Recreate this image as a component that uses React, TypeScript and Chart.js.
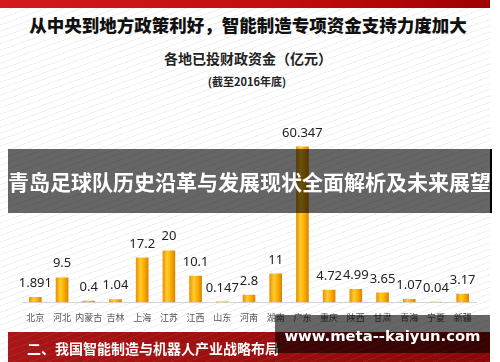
import React, { useEffect, useRef } from "react";
import { Chart, registerables } from "chart.js";

Chart.register(...registerables);

const categories = ["北京", "河北", "内蒙古", "吉林", "上海", "江苏", "江西", "山东", "河南", "湖南", "广东", "重庆", "陕西", "甘肃", "青海", "宁夏", "新疆"];
const values = [1.891, 9.5, 0.4, 1.04, 17.2, 20, 10.1, 0.147, 2.8, 11, 60.347, 4.72, 4.99, 3.65, 1.07, 0.04, 3.17];

const mainTitle = "从中央到地方政策利好，智能制造专项资金支持力度加大";
const subTitle = "各地已投财政资金（亿元）";
const subNote = "(截至2016年底)";
const overlayTitle = "青岛足球队历史沿革与发展现状全面解析及未来展望";
const sectionTitle = "二、我国智能制造与机器人产业战略布局";
const watermark = "www.meta--kaiyun.com";

const CJK = '"Noto Sans CJK SC", "Noto Sans", sans-serif';

const valueLabels = {
  id: "valueLabels",
  afterDatasetsDraw(chart: any) {
    const ctx = chart.ctx;
    const meta = chart.getDatasetMeta(0);
    ctx.save();
    ctx.font = '13px "Noto Sans", sans-serif';
    ctx.fillStyle = "#222";
    ctx.textAlign = "center";
    ctx.textBaseline = "middle";
    meta.data.forEach((el: any, i: number) => {
      ctx.fillText(String(values[i]), el.x, el.y - 14);
    });
    ctx.restore();
  },
};

export default function App() {
  const ref = useRef<HTMLCanvasElement | null>(null);

  useEffect(() => {
    if (!ref.current) return;
    const chart = new Chart(ref.current, {
      type: "bar",
      data: {
        labels: categories,
        datasets: [
          {
            data: values,
            barThickness: 12,
            backgroundColor: (c: any) => {
              const ch = c.chart;
              const xs = ch.scales && ch.scales.x;
              if (!xs || c.dataIndex === undefined) return "#F5A800";
              const x = xs.getPixelForValue(c.dataIndex);
              if (!Number.isFinite(x)) return "#F5A800";
              const g = ch.ctx.createLinearGradient(x - 6, 0, x + 6, 0);
              g.addColorStop(0, "#E89400");
              g.addColorStop(0.35, "#FFCC33");
              g.addColorStop(0.6, "#FFB400");
              g.addColorStop(1, "#D98600");
              return g;
            },
            borderWidth: 0,
          },
        ],
      },
      options: {
        animation: false,
        responsive: false,
        maintainAspectRatio: false,
        layout: { padding: { left: 22, right: 24, top: 22, bottom: 0 } },
        plugins: { legend: { display: false }, tooltip: { enabled: false } },
        scales: {
          x: {
            grid: { display: false, drawTicks: false },
            border: { display: true, color: "#d4d4d4", width: 1 },
            ticks: {
              color: "#555",
              font: { size: 9, family: CJK },
              padding: 10,
              maxRotation: 0,
              autoSkip: false,
            },
          },
          y: { display: false, min: 0, max: 70 },
        },
      },
      plugins: [valueLabels],
    });
    return () => chart.destroy();
  }, []);

  return (
    <div
      style={{
        position: "fixed",
        left: 0,
        top: 0,
        width: 500,
        height: 362,
        overflow: "hidden",
        background: "#fff",
        fontFamily: CJK,
      }}
    >
      <div
        style={{
          position: "absolute",
          left: 0,
          top: 0,
          width: 490,
          height: 362,
          background:
            "repeating-linear-gradient(160deg, #ffffff 0px, #ffffff 5px, #f1f1f1 5px, #f1f1f1 6px)",
        }}
      />
      <div
        style={{
          position: "absolute",
          left: 0,
          top: 0,
          width: 490,
          height: 8,
          background: "linear-gradient(to right, #d41a1a, #c00d0d 60%, #a00000)",
        }}
      />
      <div
        style={{
          position: "absolute",
          left: 0,
          top: 12,
          width: 496,
          textAlign: "center",
          fontSize: 17.5,
          fontWeight: 900,
          color: "#111",
          lineHeight: "26px",
          whiteSpace: "nowrap",
        }}
      >
        {mainTitle}
      </div>
      <div
        style={{
          position: "absolute",
          left: 0,
          top: 48,
          width: 496,
          textAlign: "center",
          fontSize: 14,
          fontWeight: 700,
          color: "#222",
          lineHeight: "20px",
        }}
      >
        {subTitle}
      </div>
      <div
        style={{
          position: "absolute",
          left: 0,
          top: 73,
          width: 494,
          textAlign: "center",
          fontSize: 11,
          fontWeight: 700,
          color: "#222",
          lineHeight: "16px",
        }}
      >
        {subNote}
      </div>
      <div style={{ position: "absolute", left: 0, top: 100, width: 500, height: 233 }}>
        <canvas ref={ref} width={500} height={233} style={{ width: 500, height: 233, display: "block" }} />
      </div>
      <div
        style={{
          position: "absolute",
          left: 8,
          top: 149,
          width: 482,
          height: 64,
          background: "rgba(0,0,0,0.6)",
          borderRight: "2px solid #000",
          color: "#fff",
          fontSize: 21,
          fontWeight: 700,
          lineHeight: "64px",
          textAlign: "center",
          whiteSpace: "nowrap",
        }}
      >
        {overlayTitle}
      </div>
      <div
        style={{
          position: "absolute",
          left: 8,
          top: 332,
          width: 482,
          height: 30,
          background:
            "repeating-linear-gradient(160deg, rgba(255,255,255,0) 0px, rgba(255,255,255,0) 5px, rgba(255,255,255,0.06) 5px, rgba(255,255,255,0.06) 6px), linear-gradient(to right, #a81616, #9a0d0d 60%, #8a0808)",
        }}
      >
        <div
          style={{
            position: "absolute",
            left: 19,
            top: 0,
            lineHeight: "32px",
            fontSize: 14,
            fontWeight: 700,
            color: "#fff",
            whiteSpace: "nowrap",
          }}
        >
          {sectionTitle}
        </div>
      </div>
      <div
        style={{
          position: "absolute",
          left: 275,
          top: 315,
          width: 215,
          height: 38,
          background: "rgba(0,0,0,0.6)",
          color: "#fff",
          fontFamily: '"DejaVu Sans", sans-serif',
          fontWeight: 700,
          fontSize: 14.8,
          lineHeight: "42px",
          textAlign: "center",
          whiteSpace: "nowrap",
        }}
      >
        {watermark}
      </div>
    </div>
  );
}
